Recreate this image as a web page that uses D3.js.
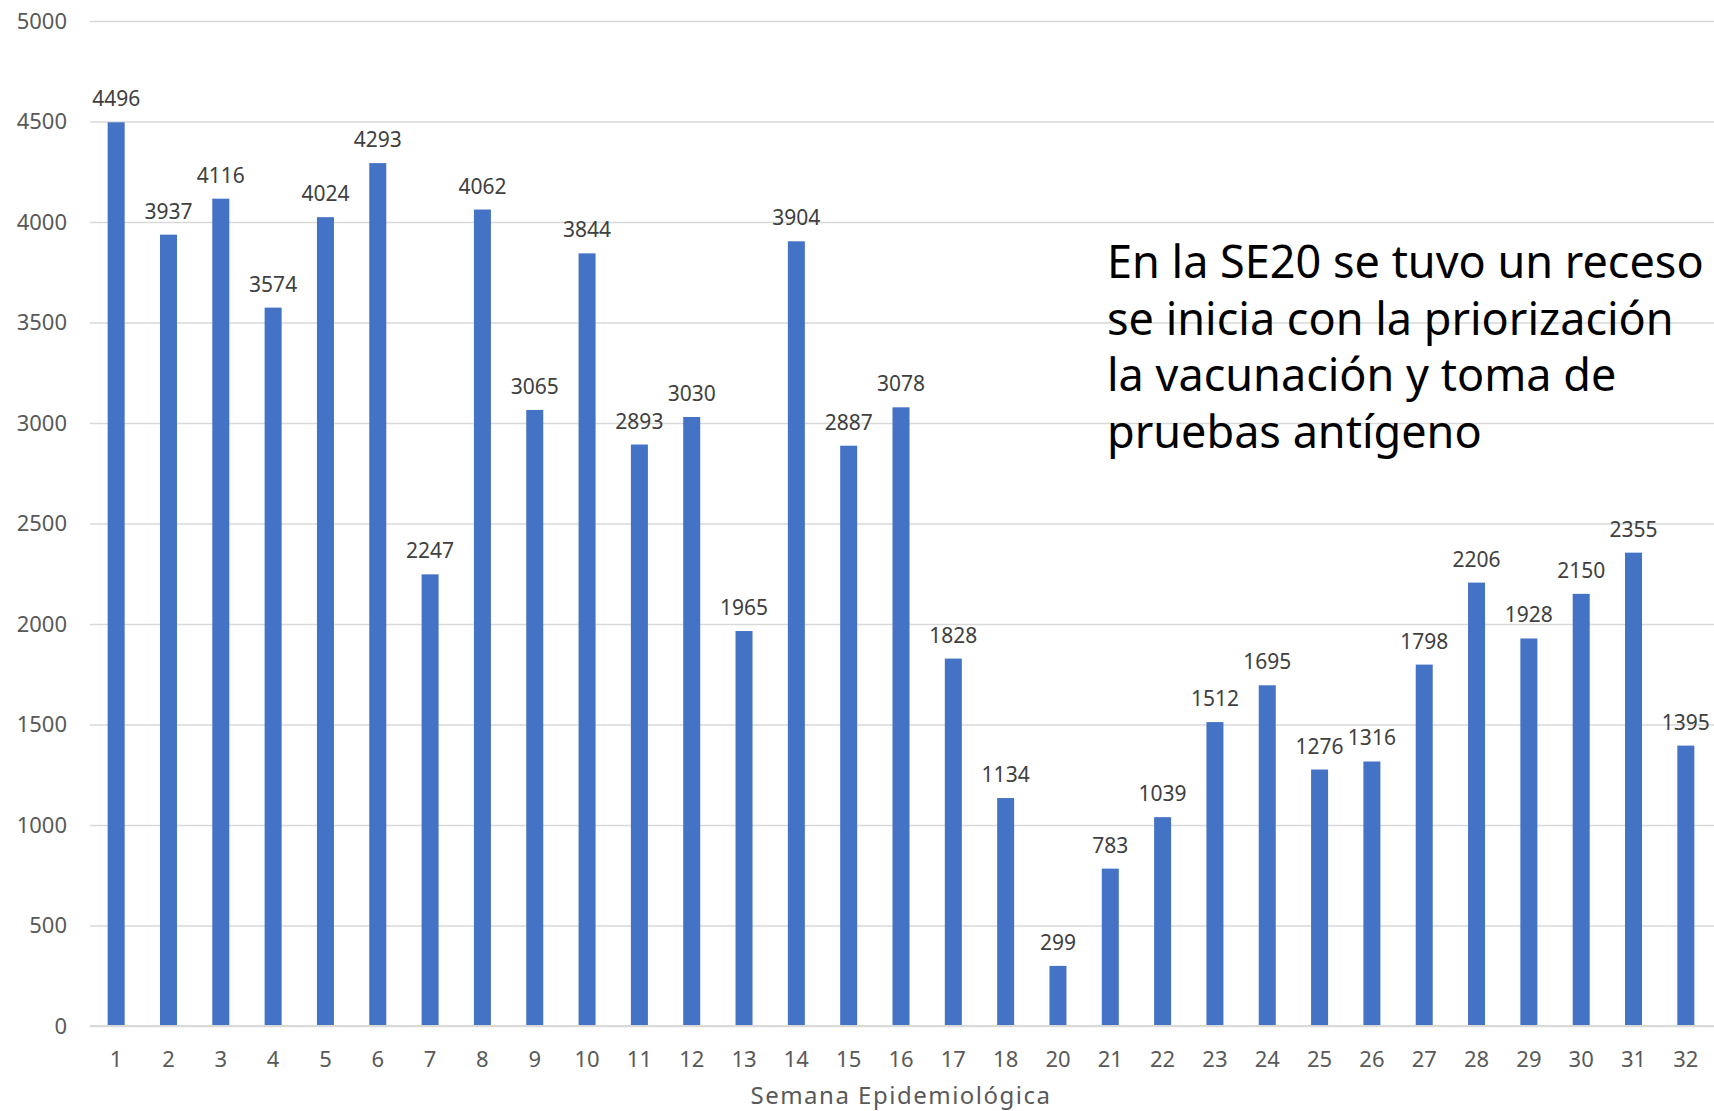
<!DOCTYPE html>
<html>
<head>
<meta charset="utf-8">
<title>Semana Epidemiológica</title>
<script src="https://cdn.jsdelivr.net/npm/d3@7"></script>
<style>
  body { margin: 0; background: #fff; }
  svg { display: block; overflow: hidden; }
  text { font-family: "Noto Sans", "DejaVu Sans", sans-serif; }
</style>
</head>
<body>
<svg id="mainsvg" width="1714" height="1111"></svg>
<script>
// semanas epidemiológicas (falta la 19)
const weeks = ['1','2','3','4','5','6','7','8','9','10','11','12','13','14','15','16','17','18',
               '20','21','22','23','24','25','26','27','28','29','30','31','32']
const cases = [4496, 3937, 4116, 3574, 4024, 4293, 2247, 4062, 3065, 3844, 2893, 3030, 1965, 3904, 2887, 3078, 1828, 1134,
               299, 783, 1039, 1512, 1695, 1276, 1316, 1798, 2206, 1928, 2150, 2355, 1395]
const yTicks = [0, 500, 1000, 1500, 2000, 2500, 3000, 3500, 4000, 4500, 5000]
const xTitle = 'Semana Epidemiológica'
const note = ['En la SE20 se tuvo un receso',
              'se inicia con la priorización',
              'la vacunación y toma de',
              'pruebas antígeno']

const svg = d3.select('#mainsvg')
const margin = {left: 90, right: 1712, top: 21, bottom: 1026}

const x = d3.scaleBand()
    .domain(weeks)
    .range([margin.left, margin.right])
    .paddingInner(0.675)
    .paddingOuter(0.3375)

const y = d3.scaleLinear()
    .domain([0, 5000])
    .range([margin.bottom, margin.top])

// grid + etiquetas eje y
const gy = svg.append('g')
    .attr('transform', `translate(${margin.left},0)`)
    .call(d3.axisLeft(y).tickValues(yTicks).tickFormat(d3.format('d'))
        .tickSize(-(margin.right - margin.left + 10)).tickPadding(23))
gy.select('.domain').remove()
gy.selectAll('line').attr('stroke', '#d9d9d9').attr('stroke-width', 1.5)
gy.selectAll('text')
    .attr('fill', '#595959')
    .style('font-size', '22px')

// barras
svg.append('g').selectAll('rect')
    .data(cases)
    .join('rect')
    .attr('x', (d, i) => x(weeks[i]))
    .attr('width', x.bandwidth())
    .attr('y', d => y(d))
    .attr('height', d => y(0) - y(d))
    .attr('fill', '#4472c4')

// etiquetas de datos
svg.append('g').selectAll('text')
    .data(cases)
    .join('text')
    .attr('x', (d, i) => x(weeks[i]) + x.bandwidth() / 2)
    .attr('y', d => y(d) - 16)
    .attr('text-anchor', 'middle')
    .attr('fill', '#404040')
    .style('font-size', '21px')
    .text(d => d)

// eje x
const gx = svg.append('g')
    .attr('transform', `translate(0,${margin.bottom})`)
    .call(d3.axisBottom(x).tickSize(0).tickPadding(25))
gx.select('.domain').attr('stroke', '#d9d9d9').attr('stroke-width', 2)
    .attr('d', `M${margin.left},0H${margin.right + 10}`)
gx.selectAll('text')
    .attr('fill', '#595959')
    .style('font-size', '22px')

svg.append('text')
    .attr('x', (margin.left + margin.right) / 2)
    .attr('y', 1104)
    .attr('text-anchor', 'middle')
    .attr('fill', '#595959')
    .style('font-size', '24px')
    .style('letter-spacing', '1.5px')
    .text(xTitle)

// nota
svg.append('g').selectAll('text')
    .data(note)
    .join('text')
    .attr('x', 1107)
    .attr('y', (d, i) => 278 + i * 56.5)
    .attr('fill', '#000')
    .style('font-size', '45px')
    .text(d => d)
</script>
</body>
</html>
